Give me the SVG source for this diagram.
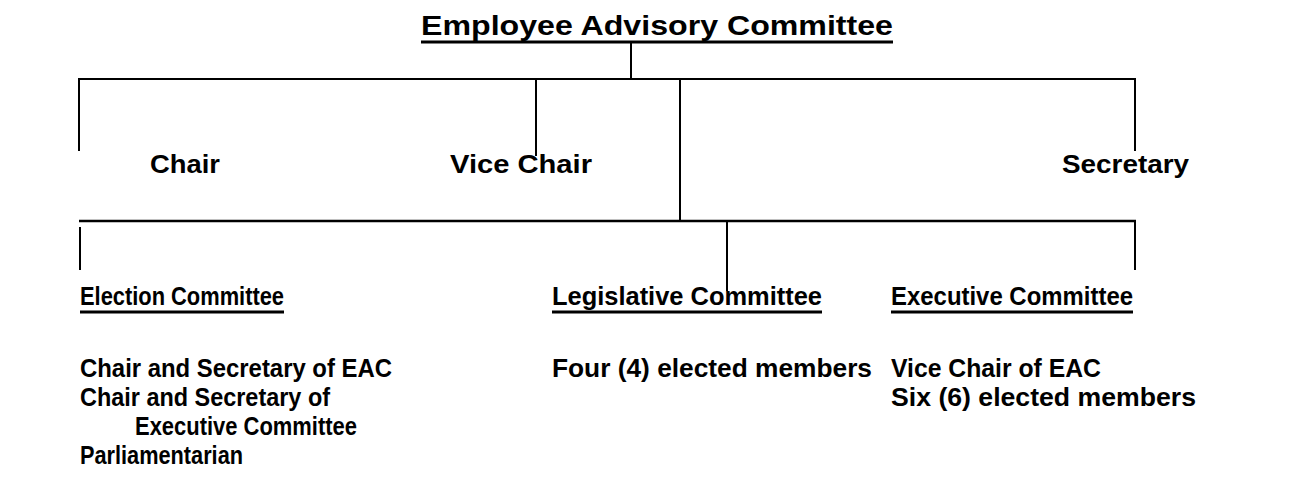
<svg xmlns="http://www.w3.org/2000/svg" width="1295" height="479" viewBox="0 0 1295 479">
<style>
text{font-family:"Liberation Sans",Arial,sans-serif;font-weight:bold;font-size:26px;fill:#000}
.c line{stroke:#000;stroke-width:2}
.ul{stroke:#000;stroke-width:3}
</style>
<rect width="1295" height="479" fill="#fff"/>
<g id="connectors" class="c">
<line x1="631" y1="43" x2="631" y2="79"/>
<line x1="78" y1="79" x2="1136" y2="79"/>
<line x1="79" y1="79" x2="79" y2="151"/>
<line x1="536" y1="79" x2="536" y2="156"/>
<line x1="1135" y1="79" x2="1135" y2="151"/>
<line x1="680" y1="79" x2="680" y2="221"/>
<line x1="79" y1="221" x2="1136" y2="221" style="stroke-width:2.5"/>
<line x1="80" y1="227" x2="80" y2="270"/>
<line x1="727" y1="221" x2="727" y2="291"/>
<line x1="1135" y1="221" x2="1135" y2="270"/>
</g>
<g id="eac">
<text x="421" y="35" style="font-size:28px" textLength="472" lengthAdjust="spacingAndGlyphs">Employee Advisory Committee</text>
<line class="ul" x1="421" y1="42" x2="893" y2="42"/>
</g>
<g id="chair"><text x="150" y="173" textLength="70" lengthAdjust="spacingAndGlyphs">Chair</text></g>
<g id="vice-chair"><text x="450" y="173" textLength="142" lengthAdjust="spacingAndGlyphs">Vice Chair</text></g>
<g id="secretary"><text x="1062" y="173" textLength="127" lengthAdjust="spacingAndGlyphs">Secretary</text></g>
<g id="election">
<text x="80" y="305" textLength="204" lengthAdjust="spacingAndGlyphs">Election Committee</text>
<line class="ul" x1="80" y1="312" x2="284" y2="312"/>
<text x="80" y="377" textLength="312" lengthAdjust="spacingAndGlyphs">Chair and Secretary of EAC</text>
<text x="80" y="406" textLength="250" lengthAdjust="spacingAndGlyphs">Chair and Secretary of</text>
<text x="135" y="435" textLength="222" lengthAdjust="spacingAndGlyphs">Executive Committee</text>
<text x="80" y="464" textLength="163" lengthAdjust="spacingAndGlyphs">Parliamentarian</text>
</g>
<g id="legislative">
<text x="552" y="305" textLength="270" lengthAdjust="spacingAndGlyphs">Legislative Committee</text>
<line class="ul" x1="552" y1="312" x2="822" y2="312"/>
<text x="552" y="377" textLength="320" lengthAdjust="spacingAndGlyphs">Four (4) elected members</text>
</g>
<g id="executive">
<text x="891" y="305" textLength="242" lengthAdjust="spacingAndGlyphs">Executive Committee</text>
<line class="ul" x1="891" y1="312" x2="1133" y2="312"/>
<text x="891" y="377" textLength="210" lengthAdjust="spacingAndGlyphs">Vice Chair of EAC</text>
<text x="891" y="406" textLength="305" lengthAdjust="spacingAndGlyphs">Six (6) elected members</text>
</g>
</svg>
